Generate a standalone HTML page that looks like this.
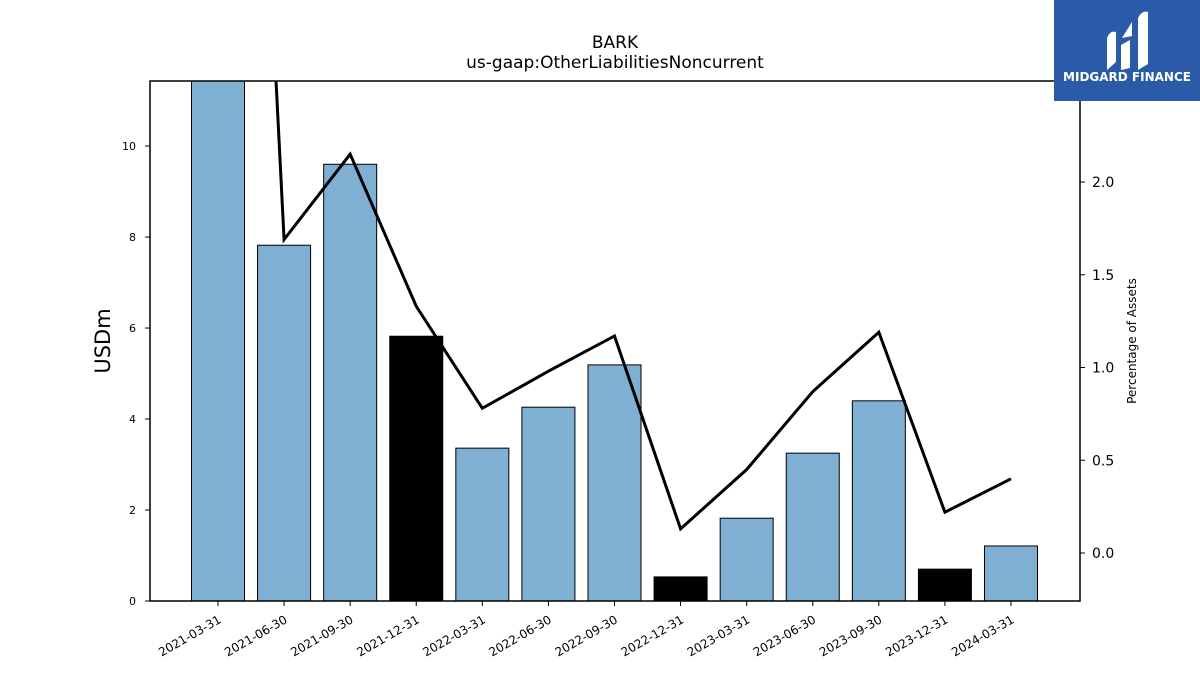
<!DOCTYPE html>
<html><head><meta charset="utf-8"><style>
body{margin:0;background:#fff;font-family:"Liberation Sans","DejaVu Sans",sans-serif}
svg text{font-family:"DejaVu Sans","Liberation Sans",sans-serif}
</style></head><body>
<svg width="1200" height="675" viewBox="0 0 1200 675" xmlns="http://www.w3.org/2000/svg">
<rect width="1200" height="675" fill="#fff"/>
<text x="615" y="48" text-anchor="middle" font-size="17">BARK</text>
<text x="615" y="68" text-anchor="middle" font-size="17">us-gaap:OtherLiabilitiesNoncurrent</text>
<g id="bars"></g>
<g id="line"></g>
<rect x="150" y="81" width="930" height="520" fill="none" stroke="#000" stroke-width="1.5"/>
<g id="axes"></g>
<text x="110" y="341" text-anchor="middle" font-size="21" transform="rotate(-90 110 341)">USDm</text>
<text x="1136" y="341" text-anchor="middle" font-size="12" transform="rotate(-90 1136 341)">Percentage of Assets</text>
<g>
<rect x="1054" y="0" width="146" height="101" fill="#2b5aa8"/>
<path d="M1107 70 L1107 38 Q1110 30 1116 32 L1116 62 Z M1121 70 L1121 45 L1130 40 L1130 68 Z M1138 70 L1138 18 Q1142 10 1148 12 L1148 64 Z M1122 38 L1132 22 L1132 36 Z" fill="#fff"/>
<text x="1127" y="81" text-anchor="middle" font-size="12" font-weight="bold" fill="#fff">MIDGARD FINANCE</text>
</g>
</svg>
<script>
const categories=["2021-03-31","2021-06-30","2021-09-30","2021-12-31","2022-03-31","2022-06-30","2022-09-30","2022-12-31","2023-03-31","2023-06-30","2023-09-30","2023-12-31","2024-03-31"];
const barValues=[12.0,7.82,9.6,5.82,3.36,4.26,5.19,0.53,1.82,3.25,4.40,0.70,1.21];
const barHighlight=[false,false,false,true,false,false,false,true,false,false,false,true,false];
const pctValues=[8.7,1.69,2.15,1.33,0.78,0.98,1.17,0.13,0.45,0.87,1.19,0.22,0.40];
const leftTicks=[0,2,4,6,8,10];
const rightTicks=[0.0,0.5,1.0,1.5,2.0];
const NS="http://www.w3.org/2000/svg";
const plotTop=81,plotBot=601,plotLeft=150,plotRight=1080;
const yL=v=>plotBot-v*(plotBot-plotTop)/11.43;
const yR=v=>553-v*185.5;
const xC=i=>218+i*(1011-218)/(categories.length-1);
const bw=53;
function mk(tag,attrs,parent){const e=document.createElementNS(NS,tag);for(const k in attrs)e.setAttribute(k,attrs[k]);parent.appendChild(e);return e;}
const svgEl=document.querySelector('svg');
const defs=mk('defs',{},svgEl);
const cp=mk('clipPath',{id:'clip'},defs);mk('rect',{x:plotLeft,y:plotTop,width:plotRight-plotLeft,height:plotBot-plotTop},cp);
const gb=document.getElementById('bars');gb.setAttribute('clip-path','url(#clip)');
barValues.forEach((v,i)=>{const y=yL(v);
const r=mk('rect',{x:xC(i)-bw/2,y:y,width:bw,height:plotBot-y,fill:barHighlight[i]?'#000':'#7fafd3',stroke:'#000','stroke-width':1},gb);

});
const gl=document.getElementById('line');gl.setAttribute('clip-path','url(#clip)');
const pl=mk('polyline',{points:pctValues.map((v,i)=>xC(i)+','+yR(v)).join(' '),fill:'none',stroke:'#000','stroke-width':3},gl);


const ga=document.getElementById('axes');
leftTicks.forEach(t=>{const y=yL(t);mk('line',{x1:145,x2:150,y1:y,y2:y,stroke:'#000'},ga);
const tx=mk('text',{x:136,y:y+4,'text-anchor':'end','font-size':11},ga);tx.textContent=t;

});
rightTicks.forEach(t=>{const y=yR(t);mk('line',{x1:1080,x2:1085,y1:y,y2:y,stroke:'#000'},ga);
const tx=mk('text',{x:1092,y:y+5,'font-size':14},ga);tx.textContent=t.toFixed(1);

});
categories.forEach((c,i)=>{const x=xC(i);mk('line',{x1:x,x2:x,y1:601,y2:606,stroke:'#000'},ga);
const tx=mk('text',{x:x+4,y:622,'text-anchor':'end','font-size':12,transform:`rotate(-30 ${x+4} 622)`},ga);tx.textContent=c;

});
</script>
</body></html>
